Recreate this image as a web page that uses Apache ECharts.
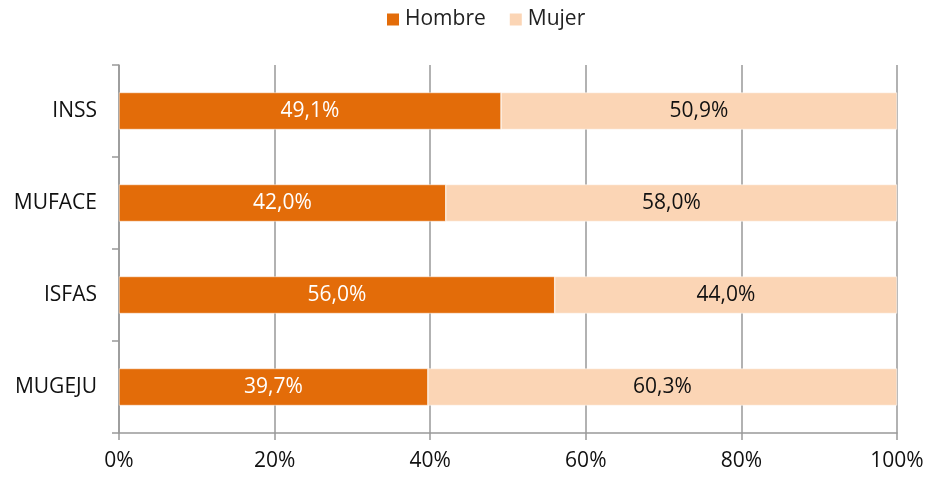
<!DOCTYPE html>
<html>
<head>
<meta charset="utf-8">
<script src="https://cdn.jsdelivr.net/npm/echarts@6/dist/echarts.min.js"></script>
<style>
  html, body { margin: 0; padding: 0; background: #fff; }
  #chart { width: 925px; height: 477px; }
</style>
</head>
<body>
<div id="chart"></div>
<script>
// datos del gráfico
var categories = ['INSS', 'MUFACE', 'ISFAS', 'MUGEJU'];
var hombre = [49.1, 42.0, 56.0, 39.7];
var mujer = [50.9, 58.0, 44.0, 60.3];
var xTicks = [0, 20, 40, 60, 80, 100];

var fontName = '"Open Sans", sans-serif';
var gray = '#999999';

function pct(v) {
  return v.toFixed(1).replace('.', ',') + '%';
}

var myChart = echarts.init(document.getElementById('chart'));
var option = {
  animation: false,
  textStyle: { fontFamily: fontName },
  legend: {
    top: 4,
    left: 380,
    itemWidth: 14,
    itemHeight: 14,
    itemGap: 22,
    icon: 'rect',
    textStyle: { fontSize: 21, color: '#222', fontFamily: fontName },
    data: ['Hombre', 'Mujer']
  },
  grid: {
    left: 119,
    right: 28,
    top: 65,
    bottom: 44,
    outerBoundsMode: 'none'
  },
  xAxis: {
    type: 'value',
    min: xTicks[0],
    max: xTicks[xTicks.length - 1],
    interval: 20,
    axisLine: { show: true, lineStyle: { color: gray, width: 1.5 } },
    axisTick: { show: true, length: 7, lineStyle: { color: gray, width: 1.5 } },
    axisLabel: {
      fontSize: 21,
      color: '#111',
      margin: 18,
      formatter: function (v) { return v + '%'; }
    },
    splitLine: { show: true, lineStyle: { color: gray, width: 1.5 } }
  },
  yAxis: {
    type: 'category',
    inverse: true,
    data: categories,
    axisLine: { show: true, lineStyle: { color: gray, width: 1.5 } },
    axisTick: { show: true, length: 7, lineStyle: { color: gray, width: 1.5 } },
    axisLabel: { fontSize: 21, color: '#111', margin: 22 }
  },
  series: [
    {
      name: 'Hombre',
      type: 'bar',
      stack: 'total',
      barWidth: 37,
      data: hombre,
      itemStyle: { color: '#E36C09', borderColor: '#fff', borderWidth: 0.5 },
      label: {
        show: true,
        position: 'inside',
        color: '#fff',
        fontSize: 21,
        formatter: function (p) { return pct(p.value); }
      }
    },
    {
      name: 'Mujer',
      type: 'bar',
      stack: 'total',
      barWidth: 37,
      data: mujer,
      itemStyle: { color: '#FBD5B5', borderColor: '#fff', borderWidth: 0.5 },
      label: {
        show: true,
        position: 'inside',
        color: '#111',
        fontSize: 21,
        formatter: function (p) { return pct(p.value); }
      }
    }
  ]
};
myChart.setOption(option);
</script>
</body>
</html>
